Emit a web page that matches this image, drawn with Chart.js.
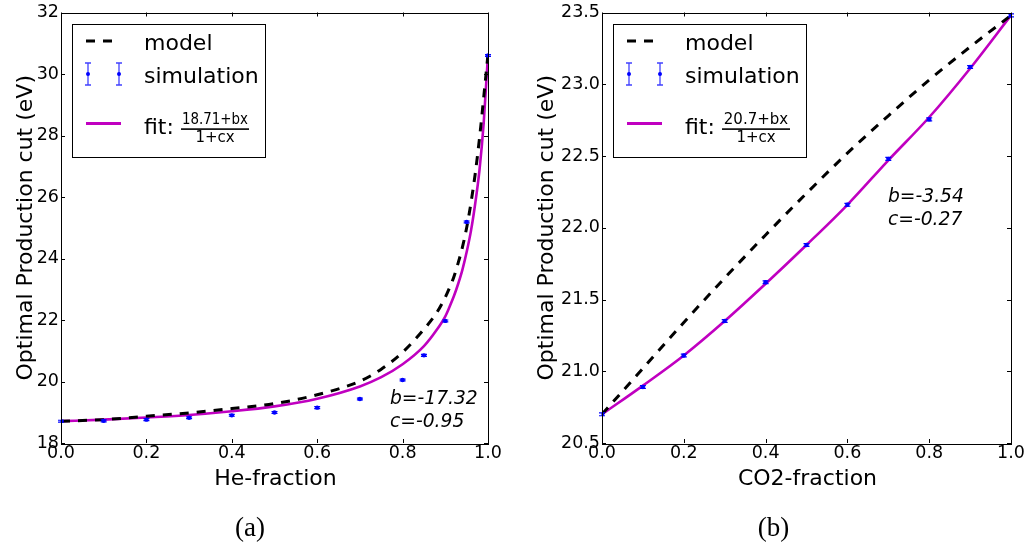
<!DOCTYPE html>
<html><head><meta charset="utf-8">
<script src="https://cdn.jsdelivr.net/npm/chart.js@4.4.0/dist/chart.umd.min.js"></script>
<style>
html,body{margin:0;padding:0;background:#fff;}
#wrap{position:relative;width:1031px;height:548px;overflow:hidden;}
canvas{position:absolute;top:0;}
</style></head><body>
<div id="wrap">
<canvas id="ca" width="515" height="548" style="left:0"></canvas>
<canvas id="cb" width="516" height="548" style="left:515px"></canvas>
</div>
<script>
// ---------- data: He mixture (a) ----------
const heSimX   = [0, 0.1, 0.2, 0.3, 0.4, 0.5, 0.6, 0.7, 0.8, 0.85, 0.9, 0.95, 1.0];
const heSimY   = [18.71, 18.72, 18.76, 18.82, 18.90, 18.99, 19.15, 19.43, 20.05, 20.85, 21.97, 25.19, 30.6];
const heSimErr = [0.03, 0.03, 0.03, 0.03, 0.03, 0.03, 0.03, 0.03, 0.03, 0.03, 0.03, 0.03, 0.03];
const heCurveX = [0, 0.1, 0.2, 0.3, 0.4, 0.5, 0.6, 0.7, 0.75, 0.8, 0.85, 0.88, 0.9, 0.91, 0.92, 0.93, 0.94, 0.95, 0.96, 0.97, 0.98, 0.99, 1.0];
const heModel  = [18.71, 18.76, 18.87, 18.98, 19.12, 19.28, 19.57, 20.01, 20.4, 20.95, 21.7, 22.24, 22.74, 23.05, 23.4, 23.85, 24.36, 25.0, 25.8, 26.75, 27.9, 29.25, 30.65];
const heFit    = [18.71, 18.76, 18.83, 18.91, 19.03, 19.19, 19.44, 19.84, 20.14, 20.56, 21.15, 21.68, 22.12, 22.43, 22.77, 23.17, 23.63, 24.21, 24.89, 25.78, 26.87, 28.42, 30.65];

// ---------- data: CO2 mixture (b) ----------
const co2SimX   = [0, 0.1, 0.2, 0.3, 0.4, 0.5, 0.6, 0.7, 0.8, 0.9, 1.0];
const co2SimY   = [20.70, 20.89, 21.11, 21.35, 21.62, 21.88, 22.16, 22.48, 22.755, 23.12, 23.48];
const co2SimErr = [0.01, 0.01, 0.01, 0.01, 0.01, 0.01, 0.01, 0.01, 0.01, 0.01, 0.01];
const co2CurveX = [0, 0.1, 0.2, 0.3, 0.4, 0.5, 0.6, 0.7, 0.8, 0.9, 1.0];
const co2Model  = [20.70, 21.02, 21.34, 21.65, 21.95, 22.24, 22.52, 22.78, 23.03, 23.26, 23.48];
const co2Fit    = [20.70, 20.90, 21.11, 21.35, 21.61, 21.88, 22.16, 22.47, 22.77, 23.11, 23.48];

// ---------- tick settings ----------
const xTicks = [0, 0.2, 0.4, 0.6, 0.8, 1.0];
const heYTicks = [18, 20, 22, 24, 26, 28, 30, 32];
const co2YTicks = [20.5, 21.0, 21.5, 22.0, 22.5, 23.0, 23.5];

const texts = {
  yTitle: 'Optimal Production cut (eV)',
  heX: 'He-fraction', co2X: 'CO2-fraction',
  heNum: '18.71+bx', co2Num: '20.7+bx', den: '1+cx',
  heAnn: ['b=-17.32', 'c=-0.95'], co2Ann: ['b=-3.54', 'c=-0.27'],
  capA: '(a)', capB: '(b)'
};

const SANS = '"DejaVu Sans", sans-serif';
const BLUE = '#0000ff';
const MAG = '#c000c0';

function pts(xs, ys) { return xs.map((x, i) => ({x: x, y: ys[i]})); }

const decor = {
  id: 'decor',
  afterDatasetsDraw(chart) {
    const o = chart.options.plugins.decor;
    const ctx = chart.ctx;
    const xs = chart.scales.x, ys = chart.scales.y;
    const ds = chart.data.datasets[o.simIndex];
    ctx.save();
    ctx.strokeStyle = BLUE; ctx.lineWidth = 1.2;
    ds.data.forEach((p, i) => {
      const e = o.err[i];
      const px = xs.getPixelForValue(p.x);
      const y1 = ys.getPixelForValue(p.y - e), y2 = ys.getPixelForValue(p.y + e);
      ctx.beginPath();
      ctx.moveTo(px, y1); ctx.lineTo(px, y2);
      ctx.moveTo(px - 3, y1); ctx.lineTo(px + 3, y1);
      ctx.moveTo(px - 3, y2); ctx.lineTo(px + 3, y2);
      ctx.stroke();
    });
    ctx.restore();
  },
  afterDraw(chart) {
    const o = chart.options.plugins.decor;
    const ctx = chart.ctx;
    const {left, right, top, bottom} = chart.chartArea;
    const xs = chart.scales.x, ys = chart.scales.y;
    ctx.save();
    ctx.strokeStyle = '#000'; ctx.lineWidth = 1;
    ctx.strokeRect(Math.round(left) + 0.5, Math.round(top) + 0.5, Math.round(right - left), Math.round(bottom - top));
    ctx.beginPath();
    o.xTicks.forEach(v => {
      const px = Math.round(xs.getPixelForValue(v)) + 0.5;
      ctx.moveTo(px, bottom); ctx.lineTo(px, bottom - 4);
      ctx.moveTo(px, top); ctx.lineTo(px, top + 4);
    });
    o.yTicks.forEach(v => {
      const py = Math.round(ys.getPixelForValue(v)) + 0.5;
      ctx.moveTo(left, py); ctx.lineTo(left + 4, py);
      ctx.moveTo(right, py); ctx.lineTo(right - 4, py);
    });
    ctx.stroke();

    ctx.fillStyle = '#000';
    ctx.font = '22px ' + SANS;
    ctx.textAlign = 'center'; ctx.textBaseline = 'alphabetic';
    ctx.fillText(o.xTitle, (left + right) / 2 + 1, 485);
    ctx.save();
    ctx.translate(o.yTitleX, (top + bottom) / 2);
    ctx.rotate(-Math.PI / 2);
    ctx.fillText(texts.yTitle, 0, 0);
    ctx.restore();
    ctx.font = '27px "Liberation Serif", serif';
    ctx.fillText(o.caption, o.captionX, 536);
    ctx.font = 'italic 18.7px ' + SANS;
    ctx.textAlign = 'left';
    ctx.fillText(o.ann[0], o.annX, o.annY[0]);
    ctx.fillText(o.ann[1], o.annX, o.annY[1]);

    // legend
    const bx = Math.round(left + 11), by = Math.round(top + 11);
    ctx.fillStyle = '#fff';
    ctx.fillRect(bx, by, 193, 133);
    ctx.strokeStyle = '#000'; ctx.lineWidth = 1;
    ctx.strokeRect(bx + 0.5, by + 0.5, 193, 133);
    ctx.strokeStyle = '#000'; ctx.lineWidth = 3; ctx.setLineDash([9, 8]);
    ctx.beginPath(); ctx.moveTo(bx + 14, by + 17); ctx.lineTo(bx + 41, by + 17); ctx.stroke();
    ctx.setLineDash([]);
    ctx.strokeStyle = 'rgba(0,0,255,0.75)'; ctx.lineWidth = 1.3;
    [bx + 16, bx + 47].forEach(cx => {
      ctx.beginPath();
      ctx.moveTo(cx, by + 39); ctx.lineTo(cx, by + 61);
      ctx.moveTo(cx - 3, by + 39); ctx.lineTo(cx + 3, by + 39);
      ctx.moveTo(cx - 3, by + 61); ctx.lineTo(cx + 3, by + 61);
      ctx.stroke();
      ctx.fillStyle = BLUE;
      ctx.beginPath(); ctx.arc(cx, by + 50, 2, 0, Math.PI * 2); ctx.fill();
    });
    ctx.strokeStyle = MAG; ctx.lineWidth = 3;
    ctx.beginPath(); ctx.moveTo(bx + 14, by + 99.5); ctx.lineTo(bx + 49, by + 99.5); ctx.stroke();

    ctx.fillStyle = '#000';
    ctx.font = '22px ' + SANS;
    ctx.textAlign = 'left';
    ctx.fillText('model', bx + 72, by + 26);
    ctx.fillText('simulation', bx + 72, by + 58.5);
    ctx.fillText('fit:', bx + 72, by + 109.5);
    ctx.font = '15px ' + SANS;
    ctx.textAlign = 'center';
    ctx.fillText(o.num, bx + 143, by + 99.5, 66);
    ctx.fillText(texts.den, bx + 143, by + 117.5);
    ctx.fillRect(bx + 109, by + 104.3, 68, 1.6);
    ctx.restore();
  }
};

function makeChart(id, cfg) {
  return new Chart(document.getElementById(id), {
    type: 'scatter',
    data: {
      datasets: [
        {label: 'simulation', data: pts(cfg.simX, cfg.simY), order: 0,
         pointRadius: 2.2, pointBackgroundColor: BLUE, pointBorderColor: BLUE, pointBorderWidth: 0, showLine: false},
        {label: 'model', data: pts(cfg.curveX, cfg.model), order: 1, showLine: true,
         borderColor: '#000', borderWidth: 3, borderDash: [9, 8], pointRadius: 0,
         cubicInterpolationMode: 'monotone', fill: false},
        {label: 'fit', data: pts(cfg.curveX, cfg.fit), order: 2, showLine: true,
         borderColor: MAG, borderWidth: 2.6, pointRadius: 0,
         cubicInterpolationMode: 'monotone', fill: false}
      ]
    },
    options: {
      responsive: false, animation: false,
      layout: {autoPadding: false, padding: {left: 0, top: 9, right: cfg.padRight, bottom: 0}},
      plugins: {
        legend: {display: false}, tooltip: {enabled: false},
        decor: {simIndex: 0, err: cfg.err, xTicks: xTicks, yTicks: cfg.yTicks,
                xTitle: cfg.xTitle, yTitleX: cfg.yTitleX, caption: cfg.caption, captionX: cfg.captionX,
                ann: cfg.ann, annX: cfg.annX, annY: cfg.annY, num: cfg.num}
      },
      scales: {
        x: {type: 'linear', min: 0, max: 1,
            grid: {display: false, drawTicks: false, tickLength: 0}, border: {display: false},
            afterFit: s => { s.height = 105; },
            afterBuildTicks: s => { s.ticks = xTicks.map(v => ({value: v})); },
            ticks: {color: '#000', font: {family: SANS, size: 17.5}, padding: 0,
                    maxRotation: 0, autoSkip: false, callback: v => Number(v).toFixed(1)}},
        y: {type: 'linear', min: cfg.yMin, max: cfg.yMax,
            grid: {display: false, drawTicks: false, tickLength: 0}, border: {display: false},
            afterFit: s => { s.width = cfg.yWidth; },
            afterBuildTicks: s => { s.ticks = cfg.yTicks.map(v => ({value: v})); },
            ticks: {color: '#000', font: {family: SANS, size: 17.5}, padding: 2, autoSkip: false,
                    callback: cfg.yFmt}}
      }
    },
    plugins: [decor]
  });
}

makeChart('ca', {
  simX: heSimX, simY: heSimY, err: heSimErr, curveX: heCurveX, model: heModel, fit: heFit,
  yMin: 18, yMax: 32, yTicks: heYTicks, yWidth: 61, padRight: 27,
  yFmt: v => String(Math.round(v)),
  xTitle: texts.heX, yTitleX: 32, caption: texts.capA, captionX: 250,
  ann: texts.heAnn, annX: 390, annY: [404, 426.7], num: texts.heNum
});
makeChart('cb', {
  simX: co2SimX, simY: co2SimY, err: co2SimErr, curveX: co2CurveX, model: co2Model, fit: co2Fit,
  yMin: 20.5, yMax: 23.5, yTicks: co2YTicks, yWidth: 87, padRight: 20,
  yFmt: v => Number(v).toFixed(1),
  xTitle: texts.co2X, yTitleX: 38, caption: texts.capB, captionX: 258.5,
  ann: texts.co2Ann, annX: 373, annY: [201.7, 225], num: texts.co2Num
});
</script>
</body></html>
